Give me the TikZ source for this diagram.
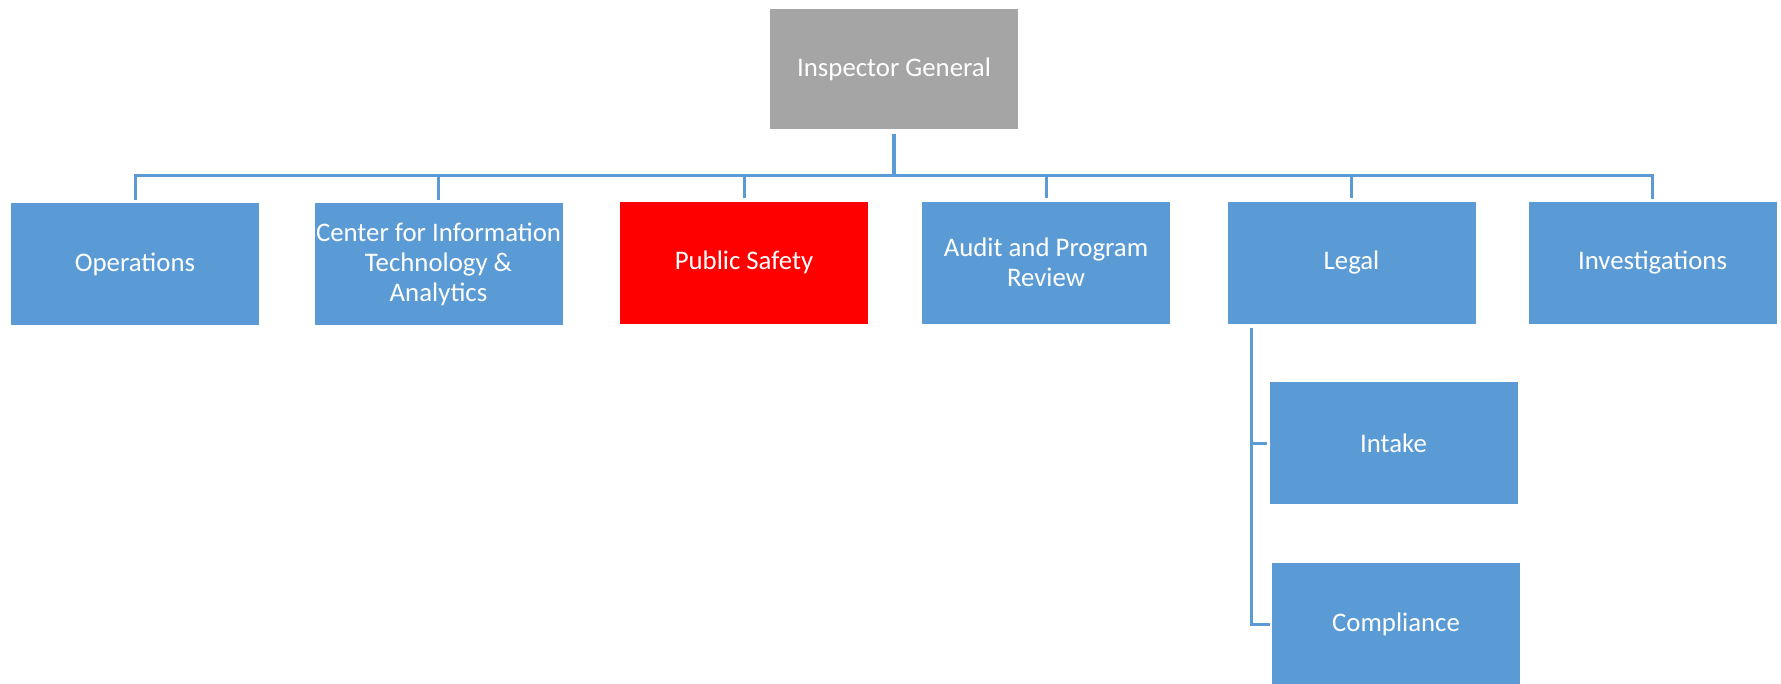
\documentclass[tikz,border=0pt]{standalone}
\usepackage{fontspec}
\setmainfont{Carlito}
\usetikzlibrary{calc}
\definecolor{UnitClr}{RGB}{91,155,213}
\definecolor{HeadClr}{RGB}{165,165,165}
\definecolor{FocusClr}{RGB}{255,0,0}

\tikzset{
  unit/.style={fill=UnitClr,text=white,minimum width=248pt,minimum height=122pt,
    inner sep=0pt,align=center,font=\fontsize{26.8}{30}\selectfont},
  link/.style={draw=UnitClr,line width=3pt}
}

\begin{document}
\begin{tikzpicture}[x=1pt,y=-1pt]
\useasboundingbox (0,0) rectangle (1781,683);

\node[unit,fill=HeadClr,minimum height=120pt] (ig) at (894,69) {Inspector General};

\node[unit] (ops) at (135,264) {Operations};
\node[unit] (cita) at (438.5,264) {Center for Information\\Technology \&\\Analytics};
\node[unit,fill=FocusClr] (ps) at (744,262.5) {Public Safety};
\node[unit] (apr) at (1046,262.5) {Audit and Program\\Review};
\node[unit] (legal) at (1351.5,262.5) {Legal};
\node[unit] (inv) at (1652.5,263) {Investigations};

\node[unit] (intake) at (1393.5,443) {Intake};
\node[unit] (comp) at (1396,624) {Compliance};

\coordinate (bus) at (894,175);
\draw[link,line width=4pt,shorten <=5pt] (ig.south) -- (bus);
\draw[link,shorten >=3pt] (bus) -| (ops.north);
\draw[link,shorten >=3pt] (bus) -| (cita.north);
\draw[link,shorten >=3pt] (bus) -| (ps.north);
\draw[link,shorten >=3pt] (bus) -| (apr.north);
\draw[link,shorten >=3pt] (bus) -| (legal.north);
\draw[link,shorten >=3pt] (bus) -| (inv.north);

\coordinate (legtrunk) at ($(legal.south west)+(24.5,0)$);
\draw[link,shorten <=4pt,shorten >=2pt] (legtrunk) |- (intake.west);
\draw[link,shorten <=4pt,shorten >=2pt] (legtrunk) |- (comp.west);

\end{tikzpicture}
\end{document}
